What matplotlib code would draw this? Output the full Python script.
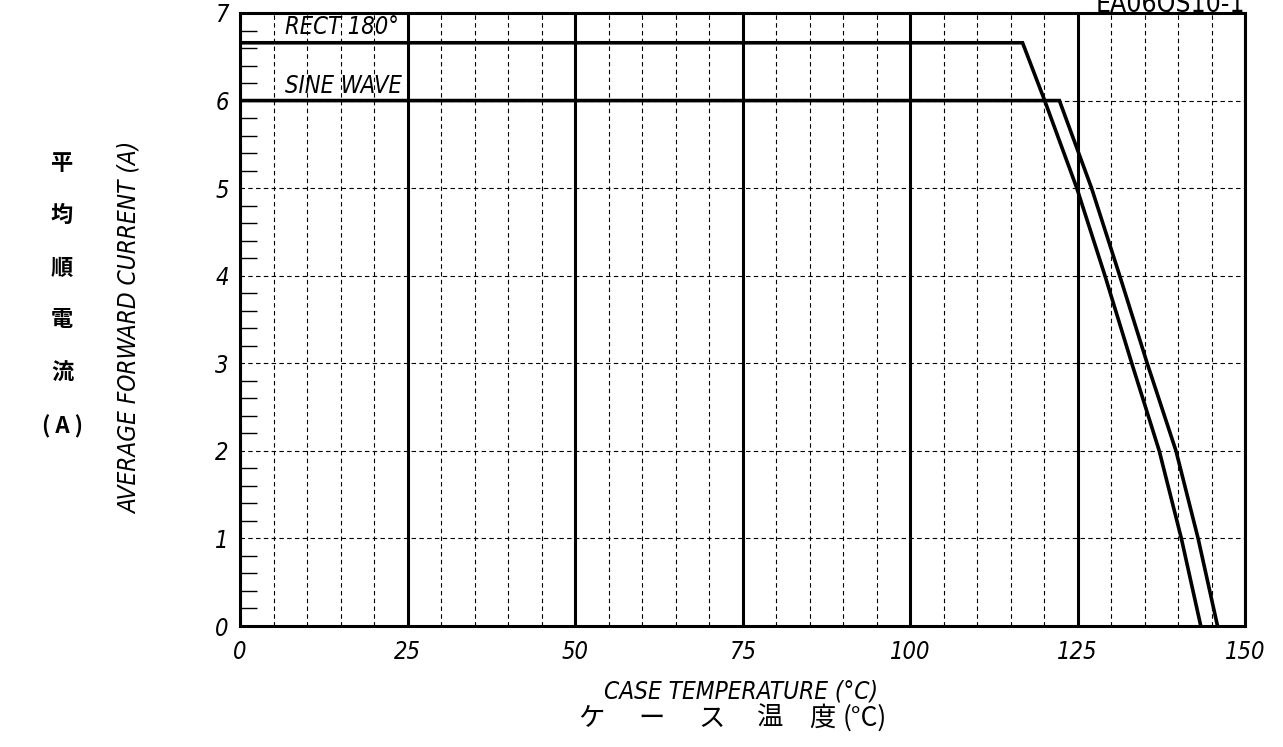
import matplotlib.pyplot as plt

# RECT 180 deg derating curve (case temp, current)
rect_t = [0, 116.8, 120.1, 124.9, 129.1, 133.1, 137.2, 140.5, 143.4]
rect_i = [6.66, 6.66, 6.0, 5.0, 4.0, 3.0, 2.0, 1.0, 0.0]

# sine wave derating curve
sine_t = [0, 122.3, 127.1, 131.3, 135.4, 139.7, 143.0, 145.9]
sine_i = [6.0, 6.0, 5.0, 4.0, 3.0, 2.0, 1.0, 0.0]

x_major = [0, 25, 50, 75, 100, 125, 150]
x_minor = list(range(0, 151, 5))
y_major = [0, 1, 2, 3, 4, 5, 6, 7]
y_minor = [i / 5 for i in range(0, 36)]

W, H = 1283, 747
lat = ['DejaVu Sans']
jp = ['Noto Sans CJK JP', 'DejaVu Sans']


def fx(px):
    return px / W


def fy(py):
    return 1 - py / H


fig = plt.figure(figsize=(W / 100, H / 100), dpi=100)
ax = fig.add_axes([fx(240), fy(626), fx(1245) - fx(240), fy(13) - fy(626)])

ax.set_xlim(0, 150)
ax.set_ylim(0, 7)

ax.set_xticks(x_major)
ax.set_xticks(x_minor, minor=True)
ax.set_yticks(y_major)
ax.set_yticks(y_minor, minor=True)

ax.grid(which='major', axis='x', color='black', linewidth=2.2, linestyle='-')
ax.grid(which='minor', axis='x', color='black', linewidth=0.8, linestyle=(0, (4, 3)))
ax.grid(which='major', axis='y', color='black', linewidth=0.8, linestyle=(0, (4, 3)))
ax.set_axisbelow(True)

ax.tick_params(axis='x', which='both', length=0, pad=10)
ax.tick_params(axis='y', which='major', length=0, pad=8)
ax.tick_params(axis='y', which='minor', direction='in', length=12, width=1, color='black')

for lab in ax.get_xticklabels() + ax.get_yticklabels():
    lab.set_family(lat)
    lab.set_style('italic')
    lab.set_stretch('condensed')
    lab.set_fontsize(17)

for s in ax.spines.values():
    s.set_linewidth(2.2)

ax.plot(rect_t, rect_i, color='black', linewidth=2.6, solid_joinstyle='miter')
ax.plot(sine_t, sine_i, color='black', linewidth=2.6, solid_joinstyle='miter')

ax.text(6.7, 6.84, 'RECT 180°', family=lat, style='italic', stretch='condensed',
        fontsize=17, va='center')
ax.text(6.7, 6.17, 'SINE WAVE', family=lat, style='italic', stretch='condensed',
        fontsize=17, va='center')

# labels
fig.text(fx(1245), fy(12), 'EA06QS10-1', family=lat, stretch='condensed', fontsize=19,
         ha='right', va='baseline')
fig.text(fx(130), fy(328), 'AVERAGE FORWARD CURRENT (A)', family=lat, style='italic',
         stretch='condensed', fontsize=17.5, rotation=90, ha='center', va='center')
fig.text(fx(741), fy(691), 'CASE TEMPERATURE (°C)', family=lat, style='italic',
         stretch='condensed', fontsize=17.5, ha='center', va='center')

for ch, py in zip(['平', '均', '順', '電', '流', '( A )'], [163, 215, 268, 320, 373, 427]):
    fig.text(fx(62), fy(py), ch, family=jp, fontsize=16, weight='bold', ha='center', va='center')

for ch, px in zip(['ケ', 'ー', 'ス', '温', '度', '(°C)'], [591, 652, 712, 770, 822, 865]):
    fig.text(fx(px), fy(718), ch, family=jp, fontsize=19, ha='center', va='center')

fig.savefig('out.png', dpi=100)
